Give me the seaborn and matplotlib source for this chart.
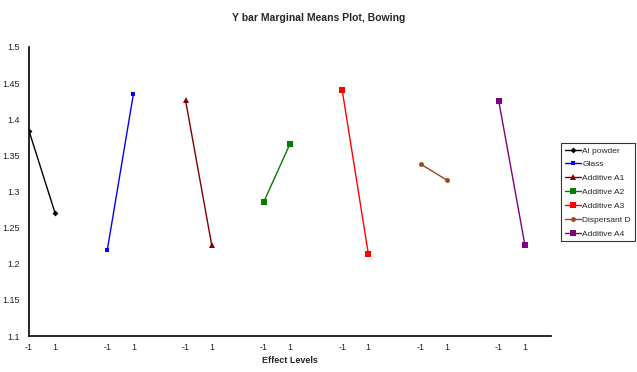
import matplotlib
matplotlib.use("Agg")
import matplotlib.pyplot as plt
import seaborn as sns
import pandas as pd

sns.set_style("white")
plt.rcParams["font.family"] = ["Liberation Sans", "DejaVu Sans"]

factors = ["Al powder", "Glass", "Additive A1", "Additive A2",
           "Additive A3", "Dispersant D", "Additive A4"]
levels = [-1, 1]
means_low = [1.384, 1.219, 1.426, 1.286, 1.440, 1.338, 1.425]
means_high = [1.270, 1.435, 1.226, 1.366, 1.214, 1.316, 1.226]

colors = ["#000000", "#0000FF", "#800000", "#008000",
          "#FF0000", "#A0441A", "#800080"]
markers = ["D", "s", "^", "s", "s", "o", "s"]
msizes = [3, 3.5, 4, 5, 5, 3.5, 5]

rows = []
for i, f in enumerate(factors):
    for j, (lvl, val) in enumerate(zip(levels, [means_low[i], means_high[i]])):
        rows.append({"factor": f, "level": lvl, "slot": 3 * i + j, "mean": val})
df = pd.DataFrame(rows)

fig = plt.figure(figsize=(6.37, 3.72), dpi=100)
ax = fig.add_axes([29 / 637, 36 / 372, 522 / 637, 289 / 372])

for i, f in enumerate(factors):
    sub = df[df["factor"] == f]
    sns.lineplot(data=sub, x="slot", y="mean", ax=ax, color=colors[i],
                 marker=markers[i], markersize=msizes[i], markeredgewidth=0,
                 linewidth=1.0, label=f, legend=False)

ax.set_xlim(0, 20)
ax.set_ylim(1.1, 1.5)
ax.set_xticks(range(21))
xlabels = []
for k in range(21):
    r = k % 3
    xlabels.append(str(levels[r]) if r < 2 else "")
ax.set_xticklabels(xlabels)
ax.set_yticks([1.1, 1.15, 1.2, 1.25, 1.3, 1.35, 1.4, 1.45, 1.5])
ax.set_yticklabels(["1.1", "1.15", "1.2", "1.25", "1.3", "1.35", "1.4", "1.45", "1.5"])
ax.tick_params(axis="both", direction="inout", length=6, width=1,
               labelsize=6.5, color="black", labelcolor="#222222")
ax.tick_params(axis="x", pad=2)
for s in ["top", "right"]:
    ax.spines[s].set_visible(False)
for s in ["left", "bottom"]:
    ax.spines[s].set_color("black")
    ax.spines[s].set_linewidth(1.2)
ax.set_xlabel("Effect Levels", fontsize=6.5, fontweight="bold", labelpad=3)
ax.set_ylabel("")
ax.grid(False)

fig.suptitle("Y bar Marginal Means Plot, Bowing", fontsize=7.5,
             fontweight="bold", y=0.965)

handles, labels = ax.get_legend_handles_labels()
leg = fig.legend(handles, labels, loc="upper left",
                 bbox_to_anchor=(561 / 637, 1 - 143 / 372),
                 fontsize=6, frameon=True, fancybox=False,
                 handlelength=1.9, handletextpad=0.2, borderpad=0.45,
                 labelspacing=0.72, borderaxespad=0)
leg.get_frame().set_edgecolor("black")
leg.get_frame().set_linewidth(0.8)

fig.savefig("out.png", dpi=100)
